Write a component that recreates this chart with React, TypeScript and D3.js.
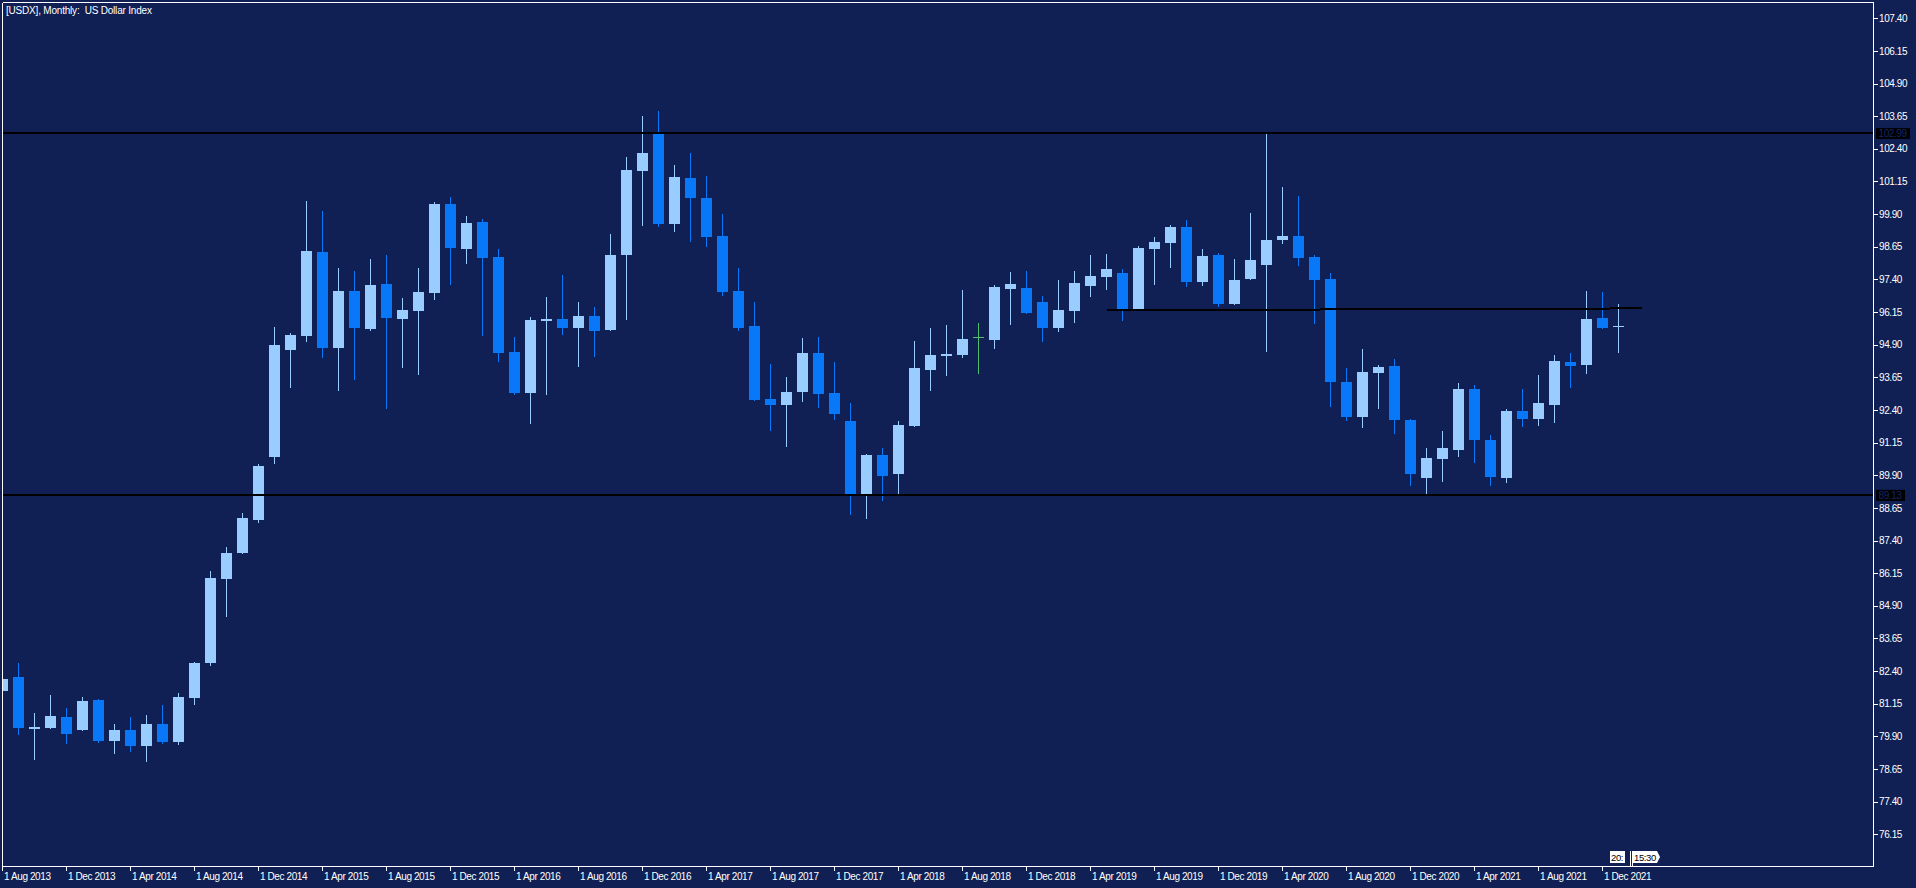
import React, { useEffect } from "react";
import * as d3 from "d3";

const W = 1916;
const H = 888;

// Monthly candles, Aug 2013 .. Jan 2022
const opens = [
  81.65, 82.17, 80.18, 80.22, 80.64, 80.14, 81.29, 79.72, 80.14, 79.53,
  80.37, 79.68, 81.37, 82.72, 85.94, 86.93, 88.19, 90.61, 94.71, 95.24,
  98.45, 94.78, 96.96, 95.51, 97.22, 95.89, 96.2, 96.89, 100.29, 98.58,
  99.6, 98.26, 94.62, 93.06, 95.82, 95.88, 95.55, 96.0, 95.47, 98.35,
  101.56, 102.97, 99.53, 101.28, 100.53, 99.07, 96.97, 95.63, 92.82, 92.6,
  93.1, 94.58, 93.05, 91.98, 89.14, 90.67, 89.95, 91.79, 93.94, 94.48,
  94.52, 95.18, 95.09, 97.04, 97.07, 96.53, 95.55, 96.2, 97.16, 97.5,
  97.65, 96.23, 98.56, 98.79, 99.4, 97.3, 98.33, 96.46, 97.42, 97.95,
  98.91, 99.06, 98.26, 97.42, 93.47, 92.13, 93.82, 94.08, 92.02, 89.79,
  90.52, 90.87, 93.2, 91.25, 89.79, 92.36, 92.05, 92.59, 94.24, 94.12,
  95.92, 95.58,
];
const highs = [
  82.3, 82.71, 80.8, 81.48, 80.99, 81.41, 81.33, 80.37, 80.64, 80.72,
  81.1, 81.56, 82.75, 86.23, 87.15, 88.45, 90.33, 95.58, 95.35, 100.4,
  100.02, 97.84, 97.72, 98.18, 98.33, 96.69, 97.84, 100.36, 100.56, 99.83,
  99.72, 98.56, 95.19, 95.96, 96.73, 97.57, 96.53, 96.34, 99.14, 102.09,
  103.66, 103.85, 101.78, 102.24, 101.36, 99.9, 97.84, 96.53, 94.16, 93.66,
  95.16, 95.19, 94.24, 92.67, 90.71, 90.94, 91.98, 95.04, 95.54, 95.65,
  96.99, 95.73, 97.19, 97.68, 97.72, 96.76, 97.38, 97.72, 98.33, 98.37,
  97.8, 98.68, 99.02, 99.48, 99.68, 98.56, 98.41, 98.18, 99.94, 102.99,
  100.94, 100.59, 98.33, 97.65, 94.01, 94.73, 94.13, 94.35, 92.06, 90.94,
  91.59, 93.43, 93.36, 91.44, 92.44, 93.2, 93.74, 94.5, 94.58, 96.96,
  96.92, 96.46,
];
const lows = [
  81.5, 79.95, 79.0, 80.18, 79.61, 80.1, 79.64, 79.22, 79.3, 78.92,
  79.61, 79.57, 81.1, 82.6, 84.48, 86.89, 88.07, 90.34, 93.25, 95.01,
  94.4, 93.14, 93.56, 95.44, 92.45, 94.02, 93.75, 96.62, 97.2, 98.0,
  95.24, 94.25, 92.98, 91.87, 92.98, 95.28, 94.06, 94.44, 95.44, 95.86,
  99.46, 99.42, 99.23, 98.84, 98.65, 96.78, 95.44, 92.75, 91.61, 91.0,
  92.72, 92.49, 92.03, 88.38, 88.22, 88.91, 89.18, 91.75, 93.14, 93.71,
  94.4, 93.79, 94.75, 95.67, 96.09, 95.01, 95.4, 95.74, 96.74, 97.01,
  95.82, 96.2, 97.2, 97.84, 97.11, 97.15, 96.34, 96.42, 97.38, 94.63,
  98.76, 97.91, 95.69, 92.51, 91.98, 91.71, 92.44, 91.48, 89.49, 89.18,
  89.64, 90.6, 90.37, 89.49, 89.6, 91.75, 91.79, 91.9, 93.24, 93.78,
  95.52, 94.58,
];
const closes = [
  82.1, 80.22, 80.26, 80.68, 79.99, 81.25, 79.72, 80.14, 79.53, 80.37,
  79.68, 81.4, 82.71, 85.96, 86.92, 88.26, 90.25, 94.89, 95.27, 98.49,
  94.78, 96.96, 95.55, 97.19, 95.93, 96.23, 96.92, 100.29, 98.61, 99.56,
  98.23, 94.59, 93.06, 95.85, 95.88, 95.55, 96.0, 95.44, 98.33, 101.59,
  102.24, 99.53, 101.32, 100.53, 99.04, 96.93, 95.55, 92.79, 92.6, 93.09,
  94.58, 93.02, 92.26, 89.13, 90.67, 89.87, 91.82, 94.01, 94.5, 94.54,
  95.12, 95.18, 97.11, 97.22, 96.12, 95.55, 96.23, 97.26, 97.53, 97.8,
  96.2, 98.6, 98.83, 99.4, 97.3, 98.3, 96.46, 97.38, 98.14, 98.91,
  99.06, 98.22, 97.38, 93.47, 92.13, 93.85, 94.05, 92.02, 89.95, 90.56,
  90.94, 93.2, 91.25, 89.83, 92.36, 92.05, 92.67, 94.27, 94.08, 95.88,
  95.54, 95.63,
];

const xTickLabels = [
  "1 Aug 2013", "1 Dec 2013", "1 Apr 2014", "1 Aug 2014", "1 Dec 2014",
  "1 Apr 2015", "1 Aug 2015", "1 Dec 2015", "1 Apr 2016", "1 Aug 2016",
  "1 Dec 2016", "1 Apr 2017", "1 Aug 2017", "1 Dec 2017", "1 Apr 2018",
  "1 Aug 2018", "1 Dec 2018", "1 Apr 2019", "1 Aug 2019", "1 Dec 2019",
  "1 Apr 2020", "1 Aug 2020", "1 Dec 2020", "1 Apr 2021", "1 Aug 2021",
  "1 Dec 2021",
];
const xTickStep = 4; // months between labels

const yTickLabels = [
  "76.15", "77.40", "78.65", "79.90", "81.15", "82.40", "83.65", "84.90",
  "86.15", "87.40", "88.65", "89.90", "91.15", "92.40", "93.65", "94.90",
  "96.15", "97.40", "98.65", "99.90", "101.15", "102.40", "103.65",
  "104.90", "106.15", "107.40",
];

const hLevels = [102.99, 89.13];
const trendIdx = [69.03, 102.45];
const trendVal = [96.22, 96.29];

const BG = "#102054";
const BULL = "#99CCFF";
const BEAR = "#0878F8";
const DOJI = "#4DBE6E";
const FONT = "'Liberation Sans', Arial, sans-serif";

// frame
const L = 2.5;
const T = 2.5;
const R = 1873.5;
const B = 866.5;

export default function App() {
  useEffect(() => {
    document.body.style.margin = "0";
    document.body.style.overflow = "hidden";
  }, []);

  const x = d3.scaleLinear().domain([0, 100]).range([2.5, 1602.5]);
  const y = d3.scaleLinear().domain([76.15, 107.4]).range([834.3, 18.3]);

  const candles = opens.map((o, i) => {
    const c = closes[i];
    const cx = x(i);
    const color = c > o ? BULL : c < o ? BEAR : DOJI;
    const top = y(Math.max(o, c));
    const bot = y(Math.min(o, c));
    return (
      <g key={i} fill={color}>
        <rect x={cx - 0.5} y={y(highs[i])} width={1} height={y(lows[i]) - y(highs[i])} />
        <rect x={cx - 5.5} y={top} width={11} height={Math.max(1, bot - top)} />
      </g>
    );
  });

  const trendLine = d3
    .line<number>()
    .x((d, i) => x(trendIdx[i]))
    .y((d) => y(d))(trendVal);

  return (
    <svg
      width={W}
      height={H}
      style={{ position: "absolute", left: 0, top: 0, display: "block" }}
      fontFamily={FONT}
    >
      <defs>
        <clipPath id="plot">
          <rect x={3} y={3} width={R - 3} height={B - 3} />
        </clipPath>
      </defs>
      <rect x={0} y={0} width={W} height={H} fill={BG} />

      <g clipPath="url(#plot)" shapeRendering="crispEdges">
        {candles}
        {hLevels.map((v) => (
          <line key={v} x1={L} x2={R} y1={y(v)} y2={y(v)} stroke="#000" strokeWidth={2} />
        ))}
        <path d={trendLine || ""} stroke="#000" strokeWidth={2} fill="none" />
      </g>

      {/* frame */}
      <g stroke="#fff" strokeWidth={1} shapeRendering="crispEdges" fill="none">
        <line x1={L} x2={L} y1={T} y2={B} />
        <line x1={L} x2={R} y1={T} y2={T} />
        <line x1={R} x2={R} y1={T} y2={B} />
        <line x1={L} x2={R} y1={B} y2={B} />
      </g>

      {/* title */}
      <text x={6} y={13.5} fill="#fff" fontSize={10} letterSpacing={-0.2} style={{ whiteSpace: "pre" }}>
        {"[USDX], Monthly:  US Dollar Index"}
      </text>

      {/* y axis */}
      {yTickLabels.map((t) => {
        const yy = y(+t);
        return (
          <g key={t}>
            <line x1={R} x2={R + 4} y1={Math.round(yy) + 0.5} y2={Math.round(yy) + 0.5} stroke="#fff" shapeRendering="crispEdges" />
            <text x={1879} y={yy + 3.6} fill="#fff" fontSize={10} letterSpacing={-0.4}>
              {t}
            </text>
          </g>
        );
      })}

      {/* level labels */}
      {hLevels.map((v) => (
        <g key={"lab" + v}>
          <rect x={1876} y={y(v) - 5.5} width={v >= 100 ? 34 : 29} height={11} fill="#000" />
          <text x={1878.5} y={y(v) + 3.6} fill="#14266a" fontSize={10} letterSpacing={-0.4}>
            {v.toFixed(2)}
          </text>
        </g>
      ))}

      {/* x axis */}
      {xTickLabels.map((t, i) => {
        const xx = x(i * xTickStep);
        return (
          <g key={t}>
            <line x1={xx} x2={xx} y1={B} y2={B + 4} stroke="#fff" shapeRendering="crispEdges" />
            <text x={xx + 1.5} y={880} fill="#fff" fontSize={10} letterSpacing={-0.4}>
              {t}
            </text>
          </g>
        );
      })}

      {/* time markers bottom right */}
      <g shapeRendering="crispEdges">
        <rect x={1610} y={851} width={15} height={12} fill="#fff" />
        <line x1={1630.5} x2={1630.5} y1={851} y2={B} stroke="#fff" />
        <line x1={1632.5} x2={1632.5} y1={851} y2={B} stroke="#fff" />
      </g>
      <polygon points="1633,851 1657,851 1660,857 1657,863 1633,863" fill="#fff" />
      <text x={1611} y={860.5} fill="#000" fontSize={9.5} letterSpacing={-0.4}>20:</text>
      <text x={1634} y={860.5} fill="#000" fontSize={9.5} letterSpacing={-0.4}>15:30</text>
    </svg>
  );
}
